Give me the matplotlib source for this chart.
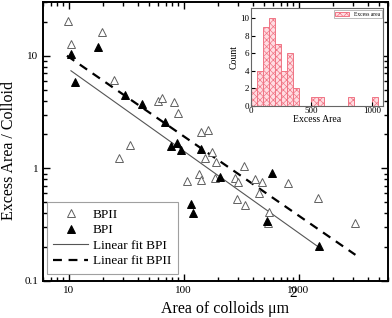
import numpy as np
import matplotlib
matplotlib.use("Agg")
import matplotlib.pyplot as plt
from matplotlib.ticker import LogLocator, NullFormatter, FixedLocator, FixedFormatter

plt.rcParams['font.family'] = ['Liberation Serif', 'DejaVu Serif']
plt.rcParams['hatch.linewidth'] = 0.5

# BPII (open triangles)
bp2_area = [9.8, 19.5, 10.5, 24.8, 60.5, 64.6, 82, 90, 34, 27.5, 142, 163, 178, 154, 190,
            333, 108, 135, 143, 188, 283, 296, 415, 486, 815, 456, 292, 340, 556, 545, 1479, 3125]
bp2_excess = [20.5, 16.4, 12.7, 6.1, 3.98, 4.2, 3.85, 3.09, 1.62, 1.23, 2.1, 2.19, 1.41, 1.23, 1.14,
              1.04, 0.78, 0.89, 0.79, 0.82, 0.82, 0.76, 0.80, 0.75, 0.74, 0.61, 0.53, 0.474, 0.413, 0.33, 0.543, 0.33]
# BPI (filled triangles)
bp1_area = [10.6, 18, 11.35, 31, 43.4, 69, 77.8, 87.7, 95, 143, 206, 585, 117, 120, 537, 1507]
bp1_excess = [10.4, 12.0, 5.8, 4.5, 3.74, 2.59, 1.58, 1.67, 1.46, 1.48, 0.835, 0.906, 0.48, 0.40, 0.344, 0.205]

# Linear fits in log-log space: log10(y) = intercept + slope * log10(x)
fit_bpi = {'intercept': 1.609, 'slope': -0.727, 'x_range': [10.5, 1500]}
fit_bpii = {'intercept': 1.696, 'slope': -0.705, 'x_range': [9.7, 3125]}

# Histogram of excess area (bin edges and counts)
hist_edges = [0, 50, 100, 150, 200, 250, 300, 350, 400, 450, 500, 550, 600, 650, 700, 750, 800, 850, 900, 950, 1000, 1050]
hist_counts = [2, 4, 9, 10, 7, 4, 6, 2, 0, 0, 1, 1, 0, 0, 0, 0, 1, 0, 0, 0, 1]

fig = plt.figure(figsize=(3.92, 3.18), dpi=100)
ax = fig.add_axes([0.1097, 0.1164, 0.8801, 0.8773])

ax.set_xscale('log')
ax.set_yscale('log')

ax.plot(bp2_area, bp2_excess, linestyle='none', marker='^', markersize=5.8,
        markerfacecolor='white', markeredgecolor='#606060', markeredgewidth=0.7, label='BPII', zorder=3)
ax.plot(bp1_area, bp1_excess, linestyle='none', marker='^', markersize=5.8,
        markerfacecolor='black', markeredgecolor='black', markeredgewidth=0.7, label='BPI', zorder=4)

def fit_line(f):
    xx = np.logspace(np.log10(f['x_range'][0]), np.log10(f['x_range'][1]), 50)
    return xx, 10 ** (f['intercept'] + f['slope'] * np.log10(xx))

fx1, fy1 = fit_line(fit_bpi)
fx2, fy2 = fit_line(fit_bpii)
ax.plot(fx1, fy1, color='#555555', lw=0.8, label='Linear fit BPI', zorder=2)
ax.plot(fx2, fy2, color='black', lw=1.6, ls=(0, (4, 3)), label='Linear fit BPII', zorder=2)

ax.set_xlim(6, 6000)
ax.set_ylim(0.1, 30)
ax.xaxis.set_major_locator(FixedLocator([10, 100, 1000]))
ax.xaxis.set_major_formatter(FixedFormatter(['10', '100', '1000']))
ax.yaxis.set_major_locator(FixedLocator([0.1, 1, 10]))
ax.yaxis.set_major_formatter(FixedFormatter(['0.1', '1', '10']))
ax.xaxis.set_minor_locator(LogLocator(base=10, subs=np.arange(2, 10)))
ax.yaxis.set_minor_locator(LogLocator(base=10, subs=np.arange(2, 10)))
ax.xaxis.set_minor_formatter(NullFormatter())
ax.yaxis.set_minor_formatter(NullFormatter())
ax.tick_params(which='both', direction='in', top=True, right=True, labelsize=8, width=1.0)
ax.tick_params(which='major', length=5)
ax.tick_params(which='minor', length=3)
for s in ax.spines.values():
    s.set_linewidth(1.4)

ax.set_xlabel('Area of colloids μm', fontsize=11.5, va='baseline')
ax.set_ylabel('Excess Area / Colloid', fontsize=11.5, va='baseline')
ax.xaxis.set_label_coords(0.5275, -0.1147)
ax.yaxis.set_label_coords(-0.086, 0.468)
ax.annotate('2', xy=(1, 0), xycoords=ax.xaxis.label, xytext=(0.3, 14.5),
            textcoords='offset points', fontsize=11, va='baseline', ha='left')

leg = ax.legend(loc='lower left', bbox_to_anchor=(0.011, 0.025), borderaxespad=0,
                fontsize=9.5, frameon=True, fancybox=False, edgecolor='#888888',
                handlelength=2.6, borderpad=0.5, labelspacing=0.25, handletextpad=0.4)
leg.get_frame().set_linewidth(0.8)

# Inset histogram
ins = fig.add_axes([0.6395, 0.6667, 0.338, 0.307])
widths = np.diff(hist_edges)
ins.bar(hist_edges[:-1], hist_counts, width=widths, align='edge',
        facecolor='#ffdde2', edgecolor='#f07585', hatch='xxxxx', linewidth=0.7, label='Excess area')
ins.set_xlim(0, 1090)
ins.set_ylim(0, 11.1)
ins.set_xticks([0, 500, 1000])
ins.set_yticks([0, 2, 4, 6, 8, 10])
ins.tick_params(which='both', direction='in', labelsize=6.5, length=3, pad=1)
ins.set_xlabel('Excess Area', fontsize=7, labelpad=0)
ins.set_ylabel('Count', fontsize=7, labelpad=1)
for s in ins.spines.values():
    s.set_linewidth(0.8)
    s.set_color('#666666')
il = ins.legend(loc='upper right', fontsize=4, fancybox=False, edgecolor='#888888',
                borderaxespad=0.3, handlelength=2.5, borderpad=0.3)
il.get_frame().set_linewidth(0.5)

fig.savefig('out.png', dpi=100)
